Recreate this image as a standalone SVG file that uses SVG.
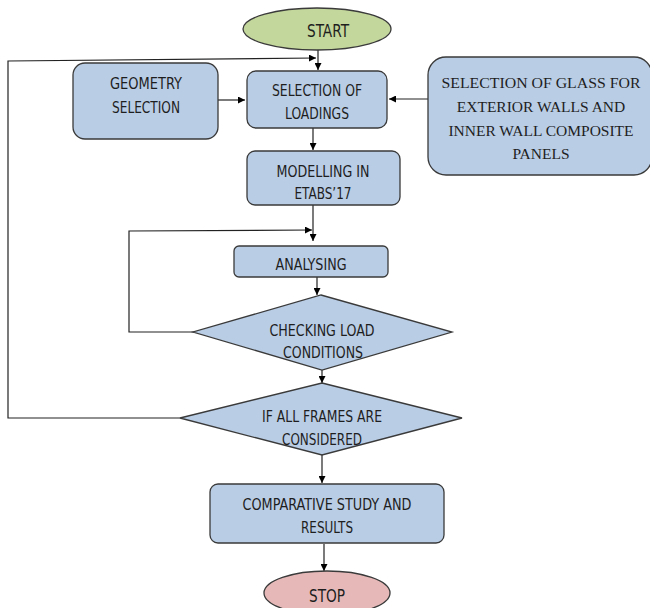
<svg xmlns="http://www.w3.org/2000/svg" width="650" height="608" viewBox="0 0 650 608">
<defs>
<marker id="ah" viewBox="0 0 10 10" refX="10" refY="5" markerWidth="7" markerHeight="7" orient="auto" markerUnits="userSpaceOnUse">
<path d="M0,0 L10,5 L0,10 z" fill="#000"/>
</marker>
<style>
.box{fill:#b9cde5;stroke:#3a3a3a;stroke-width:1.3}
.t{font-family:"DejaVu Sans Condensed","Liberation Sans",sans-serif;font-size:15.5px;fill:#1e1e1e;text-anchor:middle}
.s{font-family:"Liberation Serif",serif;font-size:15.5px;fill:#1e1e1e;text-anchor:middle}
.c{fill:none;stroke:#222;stroke-width:1.2}
</style>
</defs>
<rect width="650" height="608" fill="#fff"/>
<g id="connectors">
<line class="c" x1="318" y1="50" x2="318" y2="70" marker-end="url(#ah)"/>
<polyline class="c" points="180,418 8,418 8,61 316,58" marker-end="url(#ah)"/>
<line class="c" x1="218" y1="100" x2="245" y2="100" marker-end="url(#ah)"/>
<line class="c" x1="428" y1="99" x2="389" y2="99" marker-end="url(#ah)"/>
<line class="c" x1="313" y1="128" x2="313" y2="150" marker-end="url(#ah)"/>
<line class="c" x1="313" y1="205" x2="313" y2="241" marker-end="url(#ah)"/>
<polyline class="c" points="194,332 129,332 129,231 312,230" marker-end="url(#ah)"/>
<line class="c" x1="317" y1="277" x2="317" y2="295" marker-end="url(#ah)"/>
<line class="c" x1="322" y1="370" x2="322" y2="383" marker-end="url(#ah)"/>
<line class="c" x1="322" y1="455" x2="322" y2="483" marker-end="url(#ah)"/>
<line class="c" x1="324" y1="544" x2="324" y2="571" marker-end="url(#ah)"/>
</g>
<g id="start">
<ellipse cx="317" cy="29" rx="74" ry="21" fill="#c3d69b" stroke="#3a3a3a" stroke-width="1.3"/>
<text class="t" x="328" y="37" style="font-size:18px" textLength="42" lengthAdjust="spacingAndGlyphs">START</text>
</g>
<g id="geometry">
<rect class="box" x="73" y="63" width="145" height="76" rx="12"/>
<text class="t" x="146" y="89" textLength="72" lengthAdjust="spacingAndGlyphs">GEOMETRY</text>
<text class="t" x="146" y="113" textLength="68" lengthAdjust="spacingAndGlyphs">SELECTION</text>
</g>
<g id="loadings">
<rect class="box" x="247" y="71" width="140" height="57" rx="9"/>
<text class="t" x="317" y="96" textLength="90" lengthAdjust="spacingAndGlyphs">SELECTION OF</text>
<text class="t" x="317" y="119" textLength="64" lengthAdjust="spacingAndGlyphs">LOADINGS</text>
</g>
<g id="glass">
<rect class="box" x="428" y="57" width="224" height="118" rx="18"/>
<text class="s" x="541" y="88" textLength="199" lengthAdjust="spacingAndGlyphs">SELECTION OF GLASS FOR</text>
<text class="s" x="541" y="112">EXTERIOR WALLS AND</text>
<text class="s" x="541" y="136">INNER WALL COMPOSITE</text>
<text class="s" x="541" y="159">PANELS</text>
</g>
<g id="modelling">
<rect class="box" x="247" y="151" width="153" height="54" rx="8"/>
<text class="t" x="323" y="177" textLength="93" lengthAdjust="spacingAndGlyphs">MODELLING IN</text>
<text class="t" x="323" y="199" textLength="57" lengthAdjust="spacingAndGlyphs">ETABS’17</text>
</g>
<g id="analysing">
<rect class="box" x="234" y="246" width="154" height="31" rx="5"/>
<text class="t" x="311" y="270" textLength="71" lengthAdjust="spacingAndGlyphs">ANALYSING</text>
</g>
<g id="checking">
<polygon class="box" points="321,295 452,332 322,370 193,332"/>
<text class="t" x="322" y="336" textLength="105" lengthAdjust="spacingAndGlyphs">CHECKING LOAD</text>
<text class="t" x="323" y="358" textLength="80" lengthAdjust="spacingAndGlyphs">CONDITIONS</text>
</g>
<g id="frames">
<polygon class="box" points="322,383 462,418 322,455 180,418"/>
<text class="t" x="322" y="422" textLength="120" lengthAdjust="spacingAndGlyphs">IF ALL FRAMES ARE</text>
<text class="t" x="322" y="445" textLength="80" lengthAdjust="spacingAndGlyphs">CONSIDERED</text>
</g>
<g id="comparative">
<rect class="box" x="210" y="484" width="234" height="59" rx="8"/>
<text class="t" x="327" y="510" textLength="169" lengthAdjust="spacingAndGlyphs">COMPARATIVE STUDY AND</text>
<text class="t" x="327" y="533" textLength="52" lengthAdjust="spacingAndGlyphs">RESULTS</text>
</g>
<g id="stop">
<ellipse cx="327" cy="593" rx="63" ry="22" fill="#e6b9b8" stroke="#3a3a3a" stroke-width="1.3"/>
<text class="t" x="327" y="602" style="font-size:18px" textLength="36" lengthAdjust="spacingAndGlyphs">STOP</text>
</g>
</svg>
